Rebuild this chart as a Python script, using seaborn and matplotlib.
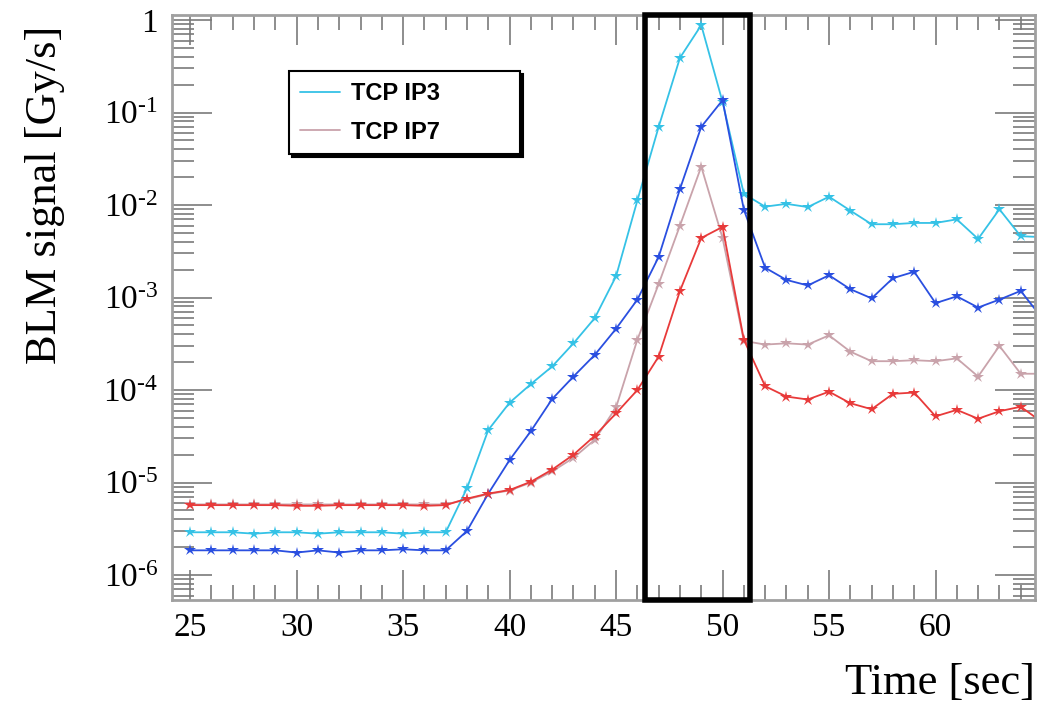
import numpy as np
import pandas as pd
import matplotlib
matplotlib.use("Agg")
import matplotlib.pyplot as plt
import seaborn as sns
from matplotlib.lines import Line2D
from matplotlib.ticker import FixedLocator, FuncFormatter, MultipleLocator

# 数据 (从图中读取, 单位 Gy/s)
time_sec = list(range(25, 66))

tcp_ip3 = [2.9e-6, 2.9e-6, 2.9e-6, 2.8e-6, 2.9e-6, 2.9e-6, 2.8e-6, 2.9e-6, 2.9e-6, 2.9e-6, 2.8e-6, 2.9e-6, 2.9e-6,
           8.7e-6, 3.7e-5, 7.3e-5, 1.16e-4, 1.8e-4, 3.2e-4, 6.0e-4, 1.7e-3, 1.12e-2,
           0.07, 0.39, 0.88, 0.13, 0.0132, 0.0096, 0.0103, 0.0095, 0.0123, 0.0087,
           0.0062, 0.0062, 0.0064, 0.0064, 0.0070, 0.0043, 0.0090, 0.0046, 0.0045]

blm_blue = [1.85e-6, 1.85e-6, 1.85e-6, 1.85e-6, 1.85e-6, 1.75e-6, 1.85e-6, 1.75e-6, 1.85e-6, 1.85e-6, 1.9e-6, 1.85e-6, 1.85e-6,
            3.0e-6, 7.6e-6, 1.75e-5, 3.6e-5, 8.0e-5, 1.4e-4, 2.4e-4, 4.6e-4, 9.5e-4,
            2.75e-3, 0.0149, 0.070, 0.136, 0.0089, 0.0021, 0.00155, 0.00135, 0.00174, 0.00123,
            9.8e-4, 0.00162, 0.0019, 8.7e-4, 0.00103, 7.8e-4, 9.5e-4, 0.00118, 6.0e-4]

tcp_ip7 = [5.8e-6, 5.8e-6, 5.8e-6, 5.8e-6, 5.8e-6, 5.8e-6, 5.8e-6, 5.8e-6, 5.8e-6, 5.8e-6, 5.8e-6, 5.8e-6, 5.8e-6,
           6.6e-6, 7.5e-6, 8.2e-6, 1.0e-5, 1.32e-5, 1.85e-5, 2.9e-5, 6.5e-5, 3.5e-4,
           1.4e-3, 6.0e-3, 0.026, 4.4e-3, 3.4e-4, 3.1e-4, 3.2e-4, 3.1e-4, 3.9e-4, 2.6e-4,
           2.05e-4, 2.05e-4, 2.1e-4, 2.05e-4, 2.2e-4, 1.4e-4, 3.0e-4, 1.5e-4, 1.5e-4]

blm_red = [5.7e-6, 5.7e-6, 5.7e-6, 5.7e-6, 5.7e-6, 5.6e-6, 5.6e-6, 5.7e-6, 5.7e-6, 5.7e-6, 5.7e-6, 5.6e-6, 5.7e-6,
           6.7e-6, 7.6e-6, 8.3e-6, 1.02e-5, 1.38e-5, 2.0e-5, 3.2e-5, 5.6e-5, 1.0e-4,
           2.3e-4, 1.18e-3, 4.4e-3, 5.8e-3, 3.5e-4, 1.1e-4, 8.5e-5, 7.9e-5, 9.6e-5, 7.2e-5,
           6.2e-5, 9.1e-5, 9.4e-5, 5.2e-5, 6.1e-5, 4.9e-5, 5.9e-5, 6.6e-5, 4.5e-5]

df = pd.DataFrame({'time': time_sec, 'tcp_ip3': tcp_ip3, 'blm_blue': blm_blue,
                   'tcp_ip7': tcp_ip7, 'blm_red': blm_red})

# 样式
sns.set_theme(style="white")
plt.rcParams['font.family'] = ['Liberation Serif', 'DejaVu Serif']
plt.rcParams['mathtext.fontset'] = 'custom'
plt.rcParams['mathtext.rm'] = 'Liberation Serif'
plt.rcParams['mathtext.it'] = 'Liberation Serif:italic'
plt.rcParams['text.color'] = 'black'

colors = {'tcp_ip7': '#c9a3ab', 'tcp_ip3': '#35c2e6', 'blm_blue': '#2a4fe0', 'blm_red': '#e83a3a'}

fig = plt.figure(figsize=(10.56, 7.08), dpi=100)
ax = fig.add_axes([0.1629, 0.1525, 0.8172, 0.8263])

for col in ['tcp_ip7', 'tcp_ip3', 'blm_blue', 'blm_red']:
    sns.lineplot(data=df, x='time', y=col, ax=ax, color=colors[col], marker='*',
                 markersize=9, markeredgewidth=0, linewidth=1.3, legend=False)

ax.set_yscale('log')
ax.set_xlim(24.15, 64.67)
ax.set_ylim(10 ** -6.27, 10 ** 0.054)

# 黑色方框 (46.35 - 51.3 s)
ax.axvspan(46.35, 51.3, ymin=0, ymax=1, fill=False, edgecolor='black', linewidth=4, clip_on=False, zorder=5)

# 坐标轴刻度
ax.xaxis.set_major_locator(MultipleLocator(5))
ax.xaxis.set_minor_locator(MultipleLocator(1))
ax.yaxis.set_major_locator(FixedLocator([10.0 ** k for k in range(-6, 1)]))
minor_y = [m * 10.0 ** k for k in range(-7, 1) for m in range(2, 10)]
ax.yaxis.set_minor_locator(FixedLocator(minor_y))


def fmt_log(v, pos):
    k = int(round(np.log10(v)))
    if k == 0:
        return '1'
    return r'$10^{\text{-%d}}$' % abs(k)


ax.yaxis.set_major_formatter(FuncFormatter(fmt_log))
ax.yaxis.set_minor_formatter(FuncFormatter(lambda v, p: ''))

ax.tick_params(axis='both', which='both', direction='in', top=True, right=True, bottom=True, left=True,
               color='#7a7a7a', width=1.2, labelsize=24, labelcolor='black')
ax.tick_params(axis='x', which='major', length=21.6, pad=9)
ax.tick_params(axis='x', which='minor', length=10.8)
ax.tick_params(axis='y', which='major', length=28.8, pad=10)
ax.tick_params(axis='y', which='minor', length=15.8)

for s in ax.spines.values():
    s.set_color('#a0a0a0')
    s.set_linewidth(2)

ax.set_xlabel('')
ax.set_ylabel('')
fig.text(0.0426, 0.7246, 'BLM signal [Gy/s]', rotation=90, ha='center', va='center', fontsize=32)
fig.text(0.980, 0.0353, 'Time [sec]', ha='right', va='center', fontsize=32)

# 图例
handles = [Line2D([0], [0], color=colors['tcp_ip3'], lw=1.3),
           Line2D([0], [0], color=colors['tcp_ip7'], lw=1.3)]
leg = ax.legend(handles, ['TCP IP3', 'TCP IP7'], loc='upper left',
                bbox_to_anchor=(0.1356, 0.764, 0.2675, 0.14), mode='expand', borderaxespad=0,
                frameon=True, fancybox=False, edgecolor='black', framealpha=1,
                shadow={'color': 'black', 'alpha': 1},
                prop={'family': 'Liberation Sans', 'weight': 'bold', 'size': 17},
                handlelength=1.7, handletextpad=0.47, borderpad=0.45, labelspacing=0.67)
leg.get_frame().set_linewidth(1.5)

fig.savefig('out.png', dpi=100)
